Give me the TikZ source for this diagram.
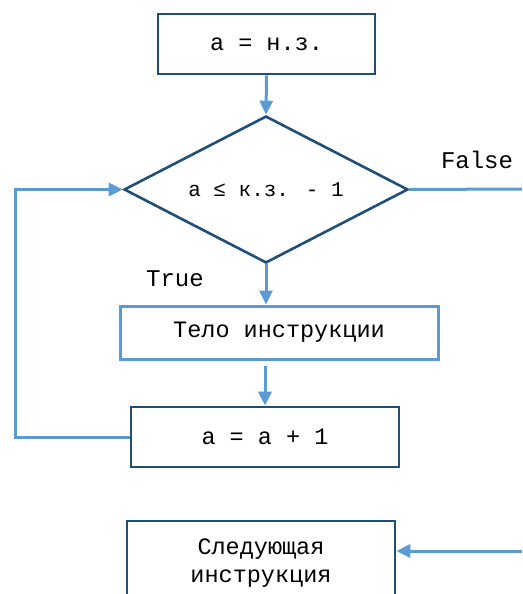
\documentclass[tikz,border=0pt]{standalone}
\usepackage{fontspec}
\setmainfont{Liberation Mono}
\usetikzlibrary{shapes.geometric, arrows.meta}

\definecolor{darkline}{HTML}{1F4E79}
\definecolor{lightline}{HTML}{5B9BD5}

\begin{document}
\begin{tikzpicture}[x=1pt, y=-1pt,
    box/.style={draw=darkline, line width=2.6pt, rectangle, inner sep=0pt,
                font=\fontsize{23.5}{28}\selectfont},
    lightbox/.style={box, draw=lightline, line width=3pt},
    cond/.style={draw=darkline, line width=2.6pt, diamond, aspect=1.93, inner sep=0pt,
                 minimum width=284pt, minimum height=147pt,
                 font=\fontsize{21}{26}\selectfont},
    flow/.style={draw=lightline, line width=3pt,
                 -{Triangle[length=14pt, width=13pt]}},
    wire/.style={draw=lightline, line width=3pt},
    lbl/.style={font=\fontsize{24}{28}\selectfont, inner sep=0pt}]

    \useasboundingbox (0,0) rectangle (522,594);
    \clip (0,0) rectangle (522,594);

    % Start value
    \node[box, minimum width=217pt, minimum height=60pt] (init) at (266.5,44) {a = н.з.};

    % Loop condition
    \node[cond] (test) at (266,189.5) {a ≤ к.з. - 1};

    % Body and step
    \node[lightbox, minimum width=318pt, minimum height=53pt] (body) at (279,332.5) {Тело инструкции};
    \node[box, minimum width=268pt, minimum height=60pt] (step) at (265,437) {a = a + 1};

    % Next instruction (cut off at the bottom)
    \node[box, minimum width=268pt, minimum height=84pt, align=center] (next) at (261,563)
        {Следующая\\инструкция};

    % Labels on the branches
    \node[lbl] (truelbl) at (175,279) {True};
    \node[lbl] (falselbl) at (477,160) {False};

    % Free ends and corner of the back loop
    \coordinate (falseend) at (522,189);
    \coordinate (nextin) at (522,551);
    \coordinate (loopcorner) at (15,437);

    % Connectors
    \draw[flow] (init.south) -- (test.north);
    \draw[flow] (test.south) -- (test.south |- body.north);
    \draw[flow, shorten <=5pt] (body.south -| step.north) -- (step.north);
    \draw[flow] (step.west) -- (loopcorner) |- (test.west);
    \draw[wire] (test.east) -- (falseend);
    \draw[flow] (nextin) -- (nextin -| next.east);

\end{tikzpicture}
\end{document}
